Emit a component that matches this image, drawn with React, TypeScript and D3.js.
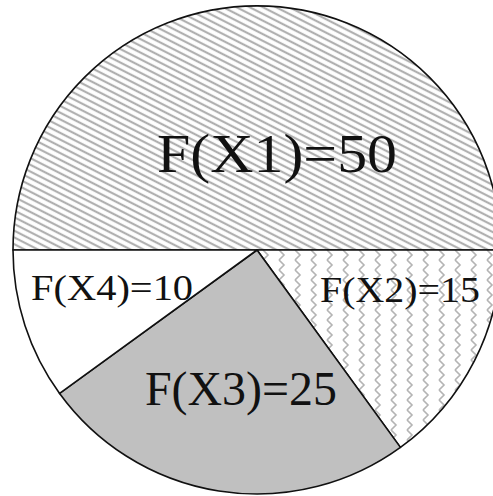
import React from "react";
import * as d3 from "d3";

const categories = ["X1", "X2", "X3", "X4"];
const values = [50, 15, 25, 10];
const labels = ["F(X1)=50", "F(X2)=15", "F(X3)=25", "F(X4)=10"];

// layout (not data)
const fills = ["url(#hatch)", "url(#zigzag)", "#c0c0c0", "#ffffff"];
const labelOffsets: [number, number][] = [
  [0.082, -0.32],
  [0.586, 0.213],
  [-0.066, 0.635],
  [-0.594, 0.205],
];
const labelSizes = [54, 36, 48, 36];
const labelWidths = [240, 160, 192, 162];

const W = 493;
const H = 496;
const cx = 257;
const cy = 250;
const R = 244;

export default function App() {
  const pie = d3
    .pie<number>()
    .sort(null)
    .value((d) => d)
    .startAngle(-Math.PI / 2)
    .endAngle((3 * Math.PI) / 2);
  const arcs = pie(values);
  const arc = d3.arc<d3.PieArcDatum<number>>().innerRadius(0).outerRadius(R);

  return (
    <svg
      width={W}
      height={H}
      style={{ position: "absolute", left: 0, top: 0, background: "#fff" }}
    >
      <defs>
        <pattern
          id="hatch"
          patternUnits="userSpaceOnUse"
          width={6}
          height={6}
          patternTransform="rotate(27)"
        >
          <rect width={6} height={6} fill="#fff" />
          <line x1={-1} y1={3} x2={7} y2={3} stroke="#b0b0b0" strokeWidth={2.2} />
        </pattern>
        <pattern id="zigzag" patternUnits="userSpaceOnUse" width={16} height={10} x={cx} y={cy}>
          <rect width={16} height={10} fill="#fff" />
          <polyline
            points="5,0 10,5 5,10"
            fill="none"
            stroke="#b4b4b4"
            strokeWidth={1.6}
          />
        </pattern>
      </defs>
      <g transform={`translate(${cx},${cy})`}>
        {arcs.map((a, i) => (
          <path
            key={categories[i]}
            d={arc(a) || ""}
            fill={fills[i]}
            stroke="#111"
            strokeWidth={1.6}
            strokeLinejoin="round"
          />
        ))}
        {labels.map((t, i) => (
          <text
            key={t}
            x={labelOffsets[i][0] * R}
            y={labelOffsets[i][1] * R}
            textAnchor="middle"
            fontFamily="Liberation Serif, Times New Roman, Times, Nimbus Roman, serif"
            fontSize={labelSizes[i]}
            textLength={labelWidths[i]}
            lengthAdjust="spacingAndGlyphs"
            fill="#111"
          >
            {t}
          </text>
        ))}
      </g>
    </svg>
  );
}
